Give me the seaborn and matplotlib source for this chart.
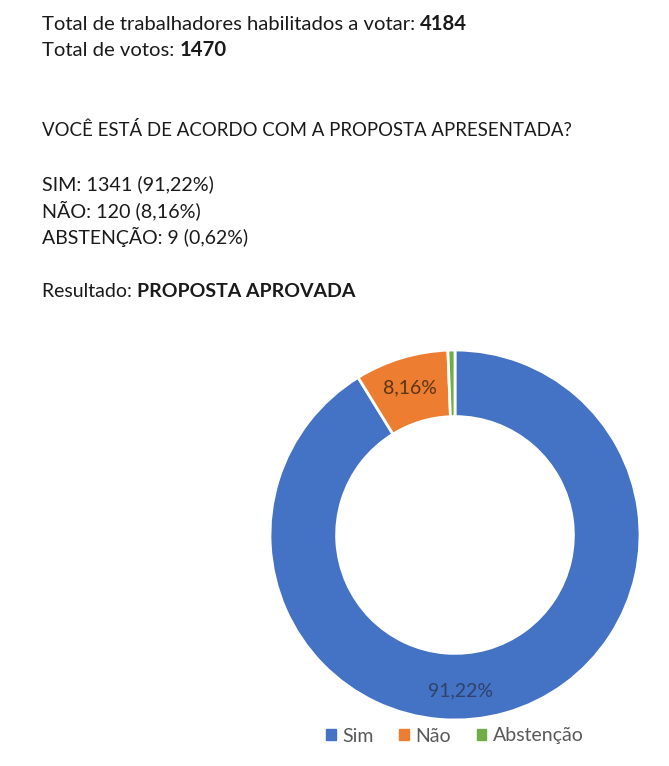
import matplotlib
matplotlib.use("Agg")
import matplotlib.pyplot as plt
import seaborn as sns
import numpy as np

# ---- data ----
categories = ["Sim", "Não", "Abstenção"]
votes = [1341, 120, 9]
pct_labels = ["91,22%", "8,16%", "0,62%"]
colors = ["#4472C4", "#ED7D31", "#70AD47"]
label_colors = ["#2F426B", "#5A3516", "#2F4A1E"]

header_lines = [
    ("Total de trabalhadores habilitados a votar: ", "4184"),
    ("Total de votos: ", "1470"),
    ("VOCÊ ESTÁ DE ACORDO COM A PROPOSTA APRESENTADA?", ""),
    ("SIM: 1341 (91,22%)", ""),
    ("NÃO: 120 (8,16%)", ""),
    ("ABSTENÇÃO: 9 (0,62%)", ""),
    ("Resultado: ", "PROPOSTA APROVADA"),
]
header_y_px = [24, 50, 130, 184, 210, 237, 291]
header_fs = [14.6, 14.6, 13.4, 14.2, 14.2, 14.0, 14.0]

sns.set_theme(style="white")
plt.rcParams["font.family"] = ["Lato", "DejaVu Sans"]

W, H = 669, 766
fig = plt.figure(figsize=(W / 100, H / 100), dpi=100)
fig.patch.set_facecolor("white")

renderer = fig.canvas.get_renderer()
for (normal, bold), ypx, fs in zip(header_lines, header_y_px, header_fs):
    y = 1 - ypx / H
    t = fig.text(42 / W, y, normal, fontsize=fs, color="#1a1a1a", va="center", ha="left")
    if bold:
        bb = t.get_window_extent(renderer=renderer)
        fig.text(bb.x1 / W, y, bold, fontsize=fs, color="#1a1a1a", va="center",
                 ha="left", fontweight="bold")

# ---- donut ----
cx, cy, R = 455, 535, 185
ax = fig.add_axes([(cx - R) / W, (H - cy - R) / H, 2 * R / W, 2 * R / H])
wedges, _ = ax.pie(votes, colors=colors, startangle=90, counterclock=False,
                   radius=1.0, wedgeprops=dict(width=0.36, edgecolor="white", linewidth=2))
ax.set_xlim(-1, 1)
ax.set_ylim(-1, 1)
ax.set_aspect("equal")
ax.axis("off")

LFS = 14.0
for i, w in enumerate(wedges[:2]):
    ang = np.deg2rad((w.theta1 + w.theta2) / 2)
    r = 0.83
    x, y = r * np.cos(ang), r * np.sin(ang)
    if i == 0:
        x, y = 0.03, -0.84
    ax.text(x, y, pct_labels[i], ha="center", va="center", fontsize=LFS,
            color=label_colors[i])

# ---- legend ----
handles = [plt.Rectangle((0, 0), 1, 1, color=c) for c in colors]
leg = fig.legend(handles, categories, loc="center", bbox_to_anchor=(455 / W, 1 - 736 / H),
                 ncol=3, frameon=False, fontsize=14.0, handlelength=0.5, handleheight=0.5,
                 handletextpad=0.35, columnspacing=1.3, labelcolor="#595959")

fig.savefig("out.png", dpi=100, facecolor="white")
